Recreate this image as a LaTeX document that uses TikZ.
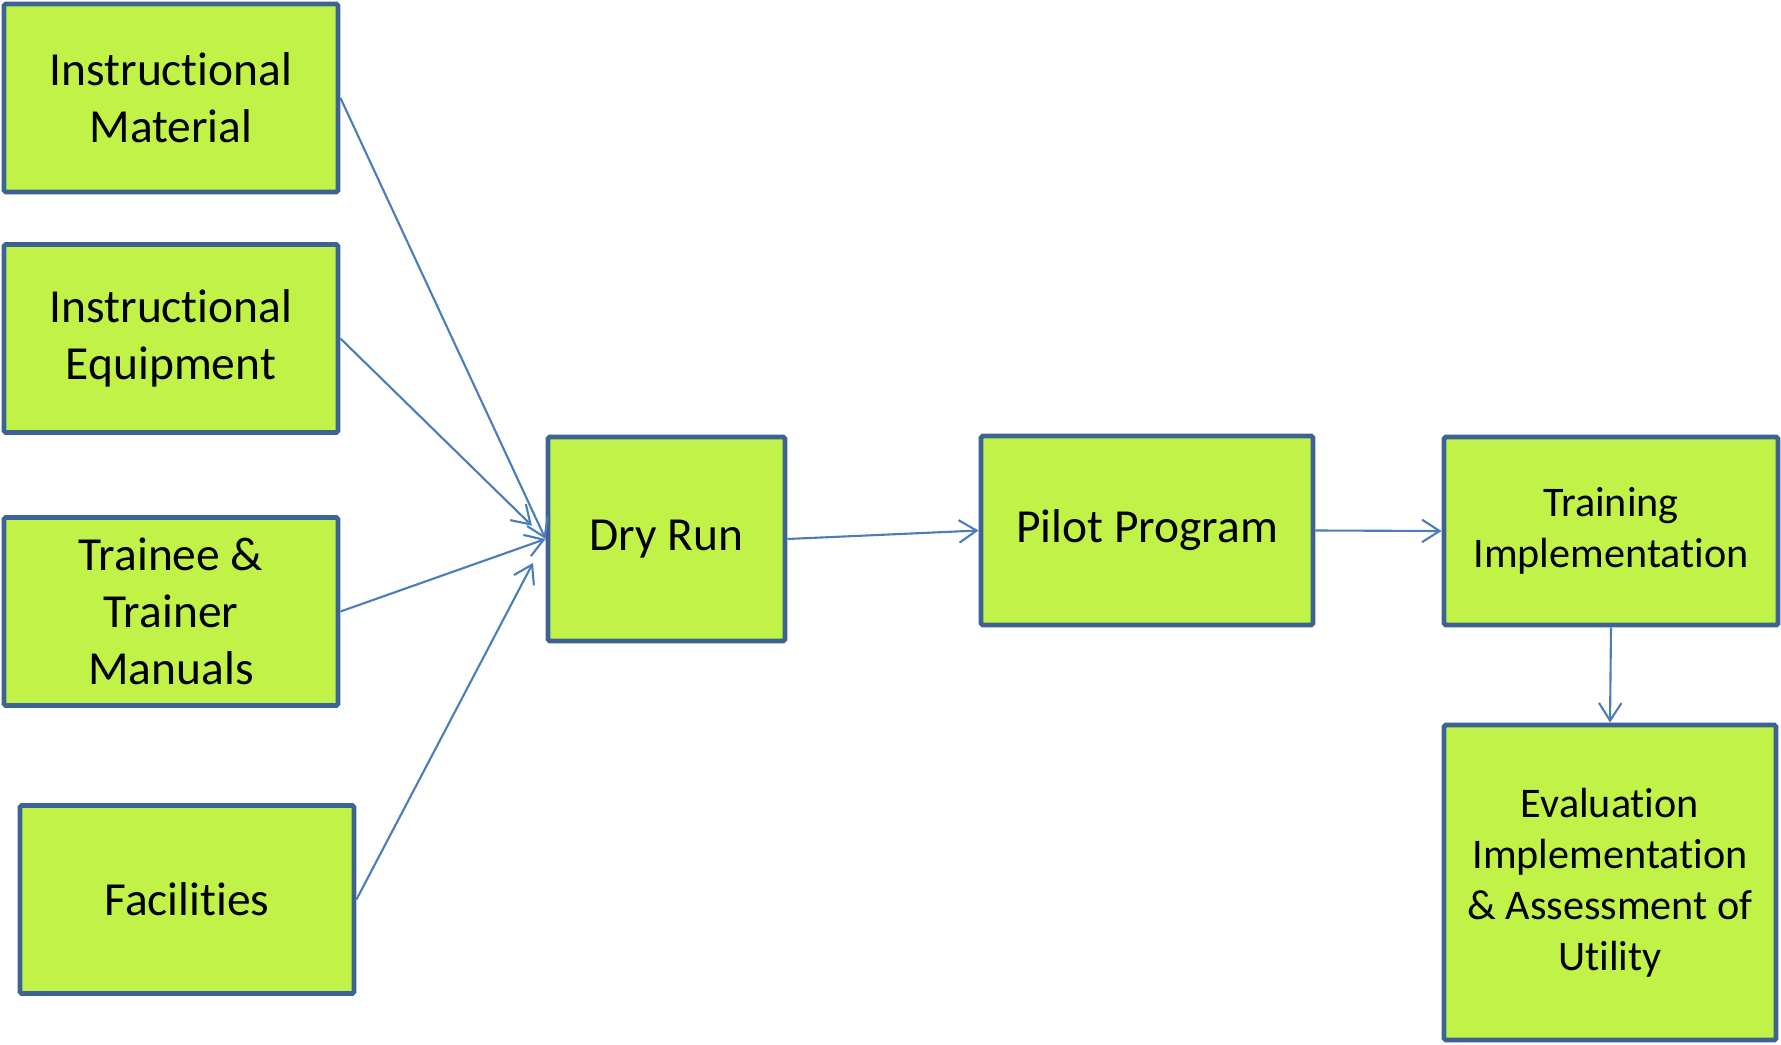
\documentclass[tikz,border=0pt]{standalone}
\usepackage{fontspec}
\setmainfont[Ligatures={NoCommon,NoRare,NoContextual}]{Carlito}
\usepackage{tikz}
\usetikzlibrary{arrows.meta}
\definecolor{boxgreen}{HTML}{C0F248}
\definecolor{boxblue}{HTML}{3D6394}
\definecolor{linkblue}{HTML}{4A7EBB}

\begin{document}
\begin{tikzpicture}[
  box/.style={draw=boxblue, line width=1.4pt, fill=boxgreen, rounded corners=0.5pt,
    align=center, inner sep=2pt, font=\fontsize{13.5}{16.2}\selectfont},
  smallbox/.style={box, font=\fontsize{12}{14.5}\selectfont},
  link/.style={draw=linkblue, line width=0.6pt, -{Straight Barb[length=5pt,width=6.4pt]}}]
\useasboundingbox (0,0) rectangle (17.81,10.44);
\node[box, minimum width=3.34cm, minimum height=1.88cm] (mat) at (1.71,9.46) {Instructional\\Material};
\node[box, minimum width=3.34cm, minimum height=1.88cm] (equ) at (1.71,7.055) {Instructional\\Equipment};
\node[box, minimum width=3.34cm, minimum height=1.88cm] (man) at (1.71,4.325) {Trainee \&\\Trainer\\Manuals};
\node[box, minimum width=3.34cm, minimum height=1.88cm] (fac) at (1.87,1.445) {Facilities};
\node[box, minimum width=2.37cm, minimum height=2.04cm] (dry) at (6.665,5.05) {Dry Run};
\node[box, minimum width=3.32cm, minimum height=1.89cm] (pil) at (11.47,5.135) {Pilot Program};
\node[smallbox, minimum width=3.34cm, minimum height=1.88cm] (tra) at (16.11,5.13) {Training\\Implementation};
\node[smallbox, minimum width=3.32cm, minimum height=3.15cm] (eva) at (16.10,1.615) {Evaluation\\Implementation\\\& Assessment of\\Utility};
% inputs into the dry run
\draw[link] (mat.east) -- (dry.west);
\draw[link, shorten >=0.19cm] (equ.east) -- (dry.west);
\draw[link] (man.east) -- (dry.west);
\draw[link, shorten >=0.27cm] (fac.east) -- (dry.west);
% main flow
\draw[link] (dry.east) -- (pil.west);
\draw[link] (pil.east) -- (tra.west);
\draw[link] (tra.south) -- (eva.north);
\end{tikzpicture}
\end{document}
